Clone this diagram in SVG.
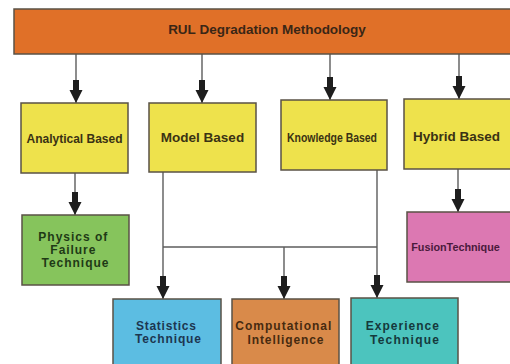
<svg xmlns="http://www.w3.org/2000/svg" xmlns:xlink="http://www.w3.org/1999/xlink" width="510" height="364" viewBox="0 0 510 364">
  <style>
    .box { stroke: #5a5246; stroke-width: 1.5; }
    .t { font-family: "Liberation Sans", Arial, sans-serif; font-weight: bold; text-anchor: middle; }
    .m { font-size: 12px; }
    .wire { stroke: #5c5c5c; stroke-width: 1.4; fill: none; }
    .head { fill: #1e1e1e; }
  </style>
  <defs>
    <!-- block arrowhead; tip at the origin, pointing down -->
    <path id="ah" d="M-3,-23 H3 V-13 H6.5 L0,0 L-6.5,-13 H-3 Z"/>
  </defs>

  <rect width="510" height="364" fill="#ffffff"/>

  <g id="connectors">
    <line class="wire" x1="76" y1="54" x2="76" y2="103"/>
    <line class="wire" x1="202" y1="54" x2="202" y2="103"/>
    <line class="wire" x1="330" y1="54" x2="330" y2="100"/>
    <line class="wire" x1="459" y1="54" x2="459" y2="99"/>
    <line class="wire" x1="75" y1="173" x2="75" y2="215"/>
    <line class="wire" x1="458" y1="169" x2="458" y2="212"/>
    <line class="wire" x1="163" y1="172" x2="163" y2="299"/>
    <line class="wire" x1="377" y1="170" x2="377" y2="298"/>
    <line class="wire" x1="163" y1="247" x2="377" y2="247"/>
    <line class="wire" x1="284" y1="247" x2="284" y2="299"/>
    <use class="head" href="#ah" x="76" y="103"/>
    <use class="head" href="#ah" x="202" y="103"/>
    <use class="head" href="#ah" x="330" y="100"/>
    <use class="head" href="#ah" x="459" y="99"/>
    <use class="head" href="#ah" x="75" y="215"/>
    <use class="head" href="#ah" x="458" y="212"/>
    <use class="head" href="#ah" x="163" y="299"/>
    <use class="head" href="#ah" x="284" y="299"/>
    <use class="head" href="#ah" x="377" y="298"/>
  </g>

  <g id="rul">
    <rect class="box" x="14" y="9" width="510" height="45" fill="#e07028"/>
    <text class="t" x="267" y="33.5" font-size="13.5" fill="#3a2616">RUL Degradation Methodology</text>
  </g>

  <g id="analytical">
    <rect class="box" x="21" y="103" width="107" height="70" fill="#eee24c"/>
    <text class="t" x="74.5" y="143" font-size="12" fill="#3a3214">Analytical Based</text>
  </g>

  <g id="model">
    <rect class="box" x="149" y="103" width="107" height="69" fill="#eee24c"/>
    <text class="t" x="202.5" y="141.7" font-size="13.5" fill="#3a3214">Model Based</text>
  </g>

  <g id="knowledge">
    <rect class="box" x="281" y="100" width="106" height="70" fill="#eee24c"/>
    <text class="t" x="332" y="142.3" font-size="12" fill="#3a3214" textLength="90" lengthAdjust="spacingAndGlyphs">Knowledge Based</text>
  </g>

  <g id="hybrid">
    <rect class="box" x="404" y="99" width="120" height="70" fill="#eee24c"/>
    <text class="t" x="456.5" y="140.7" font-size="13.5" fill="#3a3214">Hybrid Based</text>
  </g>

  <g id="physics">
    <rect class="box" x="22" y="215" width="107" height="70" fill="#86c45c"/>
    <text class="t m" fill="#1f3a16">
      <tspan x="75" y="240.5" textLength="69">Physics of</tspan>
      <tspan x="75" y="253.5" textLength="45">Failure</tspan>
      <tspan x="75" y="266.5" textLength="67">Technique</tspan>
    </text>
  </g>

  <g id="fusion">
    <rect class="box" x="407" y="212" width="120" height="70" fill="#dc78b2"/>
    <text class="t" x="455.5" y="250.5" font-size="10.8" fill="#4a1a3c">FusionTechnique</text>
  </g>

  <g id="statistics">
    <rect class="box" x="113" y="299" width="108" height="75" fill="#5cbde2"/>
    <text class="t m" fill="#1d3650">
      <tspan x="168" y="329.5" textLength="60">Statistics</tspan>
      <tspan x="168" y="343" textLength="66">Technique</tspan>
    </text>
  </g>

  <g id="computational">
    <rect class="box" x="232" y="299" width="107" height="75" fill="#d98a4a"/>
    <text class="t m" fill="#472a10">
      <tspan x="285.5" y="330" textLength="96">Computational</tspan>
      <tspan x="285.5" y="343.5" textLength="76">Intelligence</tspan>
    </text>
  </g>

  <g id="experience">
    <rect class="box" x="351" y="298" width="107" height="76" fill="#4cc4be"/>
    <text class="t m" fill="#15393c">
      <tspan x="404.5" y="330" textLength="73">Experience</tspan>
      <tspan x="404.5" y="343.5" textLength="69">Technique</tspan>
    </text>
  </g>
</svg>
